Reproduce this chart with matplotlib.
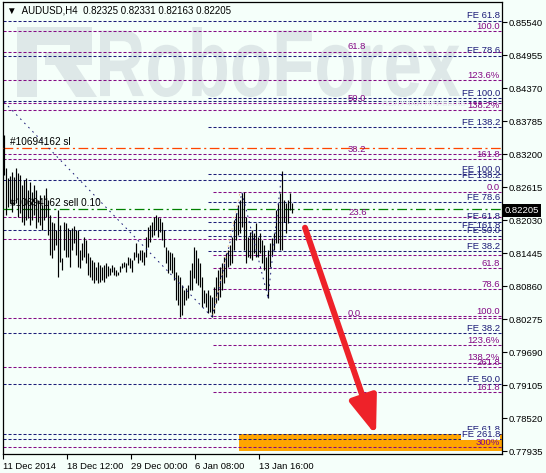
import matplotlib
matplotlib.use('Agg')
import matplotlib.pyplot as plt
from matplotlib.textpath import TextPath
from matplotlib.patches import PathPatch, Rectangle, Polygon
from matplotlib.font_manager import FontProperties
from matplotlib.transforms import Affine2D, IdentityTransform, blended_transform_factory
import numpy as np

# ---- data -------------------------------------------------------------
symbol = 'AUDUSD,H4'
last_ohlc = [0.82325, 0.82331, 0.82163, 0.82205]

highs = [
    .8355, .8296, .8278, .8282, .8289, .8280, .8296, .8287, .8284, .8266,
    .8275, .8278, .8257, .8271, .8253, .8266, .8257, .8239, .8248, .8230,
    .8248, .8260, .8239, .8213, .8200, .8198, .8186, .8222, .8195, .8136,
    .8200, .8198, .8189, .8186, .8189, .8193, .8186, .8186, .8151, .8163,
    .8174, .8168, .8145, .8138, .8133, .8129, .8121, .8129, .8124, .8121,
    .8124, .8128, .8122, .8119, .8124, .8121, .8115, .8112, .8122, .8128,
    .8129, .8128, .8138, .8136, .8133, .8147, .8163, .8145, .8151, .8151,
    .8147, .8174, .8191, .8195, .8200, .8209, .8213, .8209, .8207, .8200,
    .8186, .8156, .8151, .8147, .8145, .8138, .8112, .8106, .8103, .8089,
    .8080, .8083, .8089, .8115, .8128, .8156, .8151, .8136, .8128, .8103,
    .8080, .8074, .8080, .8071, .8068, .8085, .8103, .8115, .8121, .8128,
    .8138, .8145, .8151, .8159, .8174, .8204, .8216, .8230, .8239, .8252,
    .8253, .8209, .8174, .8182, .8186, .8181, .8198, .8174, .8181, .8168,
    .8159, .8138, .8151, .8163, .8172, .8181, .8222, .8234, .8252, .8291,
    .8239, .8234, .8239, .8252, .82331]
lows = [
    .8284, .8213, .8227, .8234, .8218, .8230, .8234, .8209, .8216, .8200,
    .8195, .8204, .8207, .8195, .8204, .8213, .8189, .8200, .8195, .8186,
    .8204, .8209, .8177, .8142, .8136, .8151, .8159, .8103, .8129, .8115,
    .8151, .8138, .8138, .8121, .8151, .8163, .8142, .8121, .8119, .8133,
    .8138, .8128, .8106, .8103, .8097, .8092, .8097, .8092, .8094, .8097,
    .8094, .8101, .8105, .8106, .8112, .8106, .8105, .8106, .8112, .8119,
    .8121, .8112, .8124, .8119, .8112, .8133, .8138, .8128, .8133, .8129,
    .8124, .8138, .8156, .8165, .8174, .8177, .8186, .8174, .8182, .8168,
    .8156, .8128, .8110, .8115, .8110, .8097, .8062, .8053, .8032, .8036,
    .8053, .8062, .8066, .8080, .8080, .8101, .8092, .8089, .8085, .8050,
    .8057, .8050, .8039, .8041, .8032, .8039, .8057, .8062, .8068, .8080,
    .8092, .8103, .8121, .8124, .8128, .8151, .8168, .8177, .8181, .8191,
    .8151, .8128, .8138, .8136, .8133, .8145, .8138, .8138, .8145, .8128,
    .8115, .8080, .8066, .8121, .8142, .8151, .8163, .8163, .8151, .8151,
    .8200, .8181, .8198, .8222, .82163]

price_ticks = [0.85540, 0.84955, 0.84370, 0.83785, 0.83200, 0.82615,
               0.82030, 0.81445, 0.80860, 0.80275, 0.79690, 0.79105,
               0.78520, 0.77935]
time_ticks = [0, 32, 64, 96, 128]
time_labels = ['11 Dec 2014', '18 Dec 12:00', '29 Dec 00:00',
               '6 Jan 08:00', '13 Jan 16:00']

# Fibo expansion levels (navy)
fe_full = [0.8557, 0.8495, 0.8414, 0.8275, 0.8186, 0.8003, 0.7913, 0.7824, 0.7815]
fe_full_lab = ['FE 61.8', 'FE 78.6', '', 'FE 138.2', 'FE 161.8', 'FE 38.2',
               'FE 50.0', 'FE 61.8', 'FE 261.8']
fe_anch = [0.8419, 0.8368, 0.8285, 0.8236, 0.8201, 0.8176, 0.8148]
fe_anch_lab = ['FE 100.0', 'FE 138.2', 'FE 100.0', 'FE 78.6', 'FE 61.8',
               'FE 50.0', 'FE 38.2']
# Fibo retracement levels (purple)
fib_full = [0.8539, 0.8502, 0.8452, 0.8411, 0.8398, 0.8320, 0.8311, 0.8209,
            0.8170, 0.8030, 0.7943, 0.7801]
fib_full_lab = ['100.0', '', '123.6%', '', '138.2%', '', '161.8', '', '',
                '', '261.8', '300%']
fib_mid = [0.8502, 0.8411, 0.8320, 0.8209, 0.8030]
fib_mid_lab = ['61.8', '50.0', '38.2', '23.6', '0.0']
fib_anch = [0.8253, 0.8142, 0.8118, 0.8081, 0.8034, 0.7982, 0.7951, 0.7899]
fib_anch_lab = ['0.0', '', '61.8', '78.6', '100.0', '123.6%', '138.2%', '161.8']

sl_price = 0.8331
sell_price = 0.8223
order = '#10694162'
target_zone = (0.7795, 0.7824)
arrow_from = (151, 0.8190)
arrow_to = (186.5, 0.7822)

# ---- figure -----------------------------------------------------------
W, H = 546, 473
bg = '#F5FFFA'
navy = '#1C1C78'
purple = '#850A85'
wm = '#DEE8E8'
fs = 6.8
font = ['Liberation Sans', 'DejaVu Sans']
plt.rcParams['font.family'] = font
plt.rcParams['lines.scale_dashes'] = False

fig = plt.figure(figsize=(W / 100, H / 100), dpi=100)
fig.patch.set_facecolor(bg)
ax = fig.add_axes([3 / W, 1 - 454 / H, 499 / W, 452 / H])
ax.set_facecolor(bg)
xmax = 249.5
ax.set_xlim(0, xmax)
ax.set_ylim(0.7789, 0.8590)
for s in ax.spines.values():
    s.set_linewidth(0.9)

# watermark
tp = TextPath((0, 0), 'RoboForex', size=100,
              prop=FontProperties(family='Liberation Sans', weight='bold'))
ext = tp.get_extents()
tr = Affine2D().translate(-ext.x0, -ext.y0).scale(360 / ext.width, 70 / ext.height) \
    .translate(100, H - 97)
ax.add_artist(PathPatch(tp, transform=tr, fc=wm, ec='none', zorder=0.5))
logo = [[(17, 27), (37, 27), (37, 97), (17, 97)],
        [(17, 27), (88, 27), (88, 45), (17, 45)],
        [(70, 27), (92, 27), (92, 65), (70, 65)],
        [(45, 52), (92, 52), (92, 65), (45, 65)],
        [(55, 65), (76, 65), (97, 97), (76, 97)]]
for poly in logo:
    ax.add_artist(Polygon([(x, H - y) for x, y in poly], closed=True,
                          transform=IdentityTransform(), fc=wm, ec='none', zorder=0.5))
fig.text(382 / W, 1 - 106 / H, 'ПОЛУЧАЙ ПРИБЫЛЬ', fontsize=6, color='#E6EEEE')

dash = dict(dashes=(2.2, 1.4), lw=0.75)

# target zone
ax.add_patch(Rectangle((118, target_zone[0]), xmax - 118, target_zone[1] - target_zone[0],
                       fc='#FFA500', ec='none', zorder=1.5))

def level(price, color, start, lab, labx=248.5, ha='right', bbox=None):
    ax.plot([start, xmax], [price, price], color=color, zorder=2, **dash)
    if lab:
        ax.text(labx, price + 0.00003, lab, color=color, fontsize=fs, ha=ha,
                va='bottom', zorder=4, bbox=bbox)

for p, l in zip(fe_full, fe_full_lab):
    bb = dict(fc=bg, ec='none', pad=0.3) if l == 'FE 261.8' else None
    level(p, navy, 0, l, bbox=bb)
for p, l in zip(fe_anch, fe_anch_lab):
    level(p, navy, 102.5, l)
for p, l in zip(fib_full, fib_full_lab):
    level(p, purple, 0, l)
for p, l in zip(fib_anch, fib_anch_lab):
    level(p, purple, 105, l)
for p, l in zip(fib_mid, fib_mid_lab):
    ax.text(172.5, p + 0.00003, l, color=purple, fontsize=fs, ha='left', va='bottom', zorder=4)

# order lines
ax.plot([0, xmax], [sl_price] * 2, color='#FF4500', lw=0.9, dashes=(7, 2.5, 1.5, 2.5), zorder=3)
ax.plot([0, xmax], [sell_price] * 2, color='#008000', lw=0.9, dashes=(7, 2.5, 1.5, 2.5), zorder=3)
ax.text(3.5, sl_price + 0.0002, order + ' sl', fontsize=fs + 0.4, color='black', va='bottom', zorder=5)
ax.text(3.5, sell_price + 0.0002, order + ' sell 0.10', fontsize=fs + 0.4, color='black',
        va='bottom', zorder=5)

# bars
pos = np.arange(len(highs)) + 0.5
ax.vlines(pos, lows, highs, color='black', lw=0.85, zorder=3)

# fibo trend lines
i_low, i_high, i_low2 = 104, 119, 132
dot = dict(lw=0.7, dashes=(1.2, 3.0), zorder=3.5)
ax.plot([0.5, pos[i_low]], [0.8413, lows[i_low]], color=navy, **dot)
ax.plot([pos[i_low], pos[i_high]], [lows[i_low], highs[i_high]], color=navy, **dot)
ax.plot([pos[i_high], pos[i_low2]], [highs[i_high], lows[i_low2]], color=navy, **dot)
ax.plot([pos[i_low2], pos[139]], [lows[i_low2], highs[139]], color=navy, **dot)
ax.plot([pos[i_low] + 0.5, pos[i_high] - 1], [lows[i_low] + 0.0003, highs[i_high]],
        color='#F7C896', **dot)

# forecast arrow
ax.annotate('', xy=arrow_to, xytext=arrow_from,
            arrowprops=dict(arrowstyle='-|>,head_length=1.15,head_width=0.42',
                            mutation_scale=20, lw=4.3, color='#EE2229',
                            shrinkA=0, shrinkB=0), zorder=6)

# axes
ax.yaxis.tick_right()
ax.set_yticks(price_ticks)
ax.set_yticklabels(['%.5f' % t for t in price_ticks])
ax.set_xticks(time_ticks)
ax.set_xticklabels(time_labels, ha='left')
ax.tick_params(axis='both', direction='out', length=3.5, width=0.8, labelsize=fs,
               colors='black', pad=1.5)
ax.tick_params(axis='x', pad=2.5)

ax.text(1.006, last_ohlc[3], '%.5f' % last_ohlc[3], transform=blended_transform_factory(ax.transAxes, ax.transData),
        color='white', fontsize=fs, va='center', ha='left', clip_on=False, zorder=10,
        bbox=dict(fc='black', ec='none', pad=1.2))

fig.text(7 / W, 1 - 10.5 / H, '▼  %s  %s' % (symbol, ' '.join('%.5f' % v for v in last_ohlc)),
         fontsize=7, va='center', family=font)

fig.savefig('out.png', dpi=100, facecolor=bg)
